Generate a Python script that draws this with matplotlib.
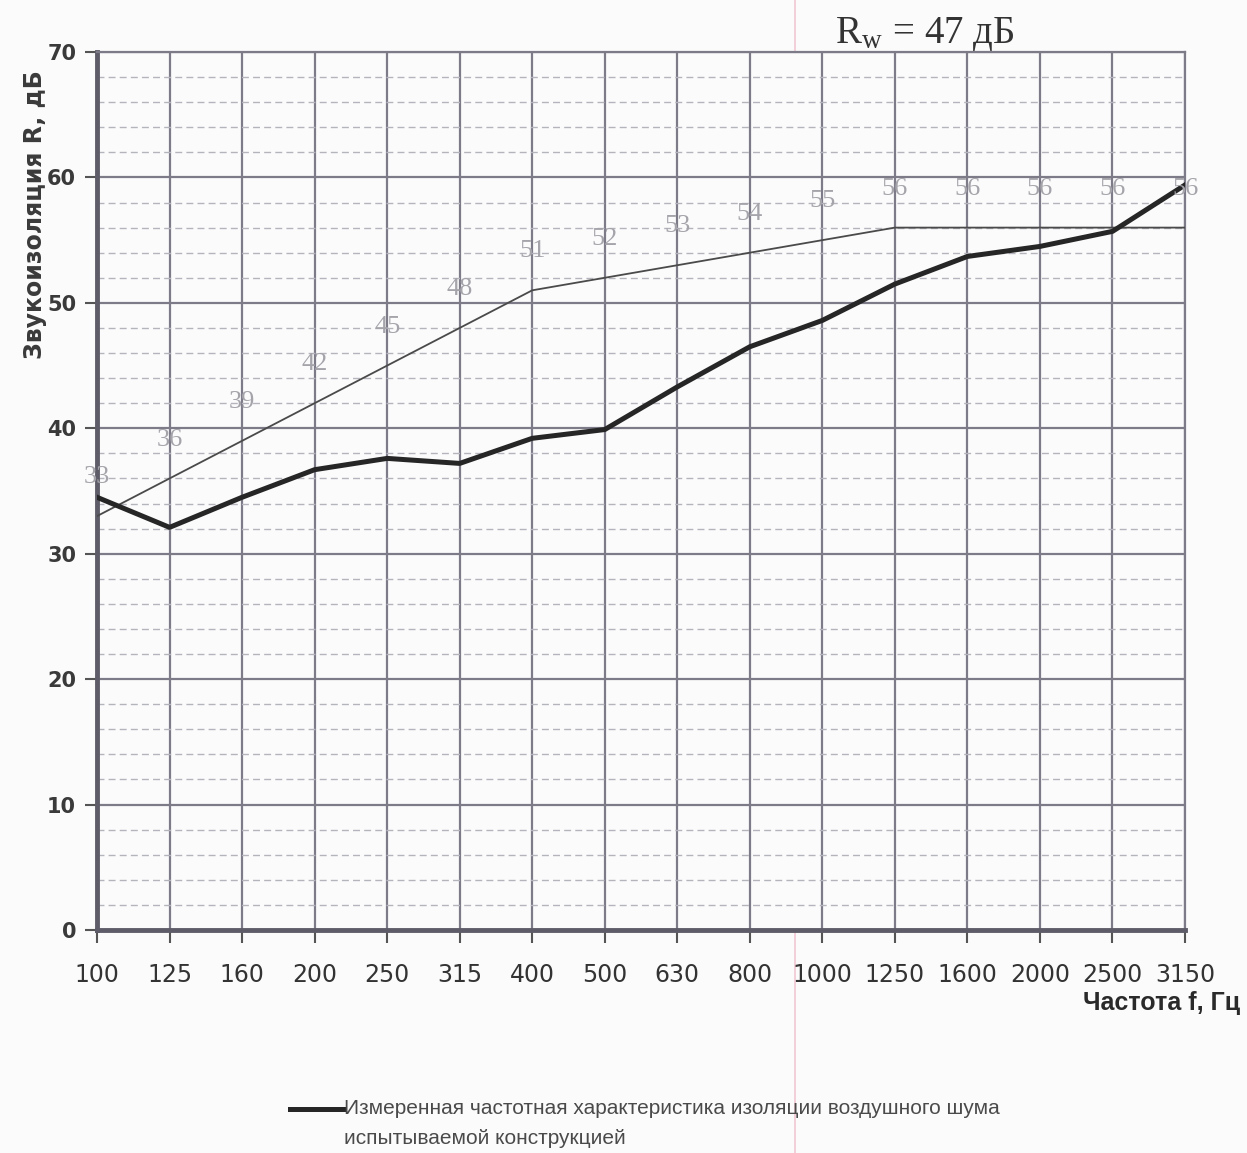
import numpy as np
import matplotlib.pyplot as plt
from matplotlib.ticker import MultipleLocator
from matplotlib.lines import Line2D

# chart data
freqs = ['100', '125', '160', '200', '250', '315', '400', '500', '630',
         '800', '1000', '1250', '1600', '2000', '2500', '3150']
measured = [34.5, 32.1, 34.5, 36.7, 37.6, 37.2, 39.2, 39.9, 43.3,
            46.5, 48.6, 51.5, 53.7, 54.5, 55.7, 59.4]
reference = [33, 36, 39, 42, 45, 48, 51, 52, 53, 54, 55, 56, 56, 56, 56, 56]
yticks = [0, 10, 20, 30, 40, 50, 60, 70]

plt.rcParams['mathtext.fontset'] = 'stix'

fig = plt.figure(figsize=(12.47, 11.53), dpi=100)
fig.patch.set_facecolor('#fbfbfc')
ax = fig.add_axes([0.0778, 0.1934, 0.8725, 0.7615])
ax.set_facecolor('#fbfbfc')

x = np.arange(len(freqs))
gridc = '#7d7b88'

# grid
ax.yaxis.set_minor_locator(MultipleLocator(2))
ax.grid(which='minor', axis='y', color='#b4b4bc', linestyle=(0, (5, 3)), linewidth=1.0)
ax.grid(which='major', axis='y', color=gridc, linestyle='-', linewidth=1.6)
ax.grid(which='major', axis='x', color=gridc, linestyle='-', linewidth=1.6)
ax.set_axisbelow(True)

# lines
ax.plot(x, reference, color='#4a4a4a', linewidth=1.3, zorder=3)
ax.plot(x, measured, color='#262626', linewidth=3.6, zorder=4,
        solid_joinstyle='round')

for xi, v in zip(x, reference):
    ax.annotate(str(v), (xi, v), xytext=(0, 28), textcoords='offset points',
                ha='center', va='center', fontsize=19, color='#a4a4aa',
                family='Liberation Serif', zorder=5)

ax.set_xlim(0, len(freqs) - 1)
ax.set_ylim(0, 70)
ax.set_xticks(x)
ax.set_xticklabels(freqs, fontsize=17, color='#333333')
ax.set_yticks(yticks)
ax.set_yticklabels([str(t) for t in yticks], fontsize=15, fontweight='bold', color='#3a3a3a')
ax.tick_params(axis='x', which='major', direction='out', length=9, width=1.5,
               color='#555', pad=15)
ax.tick_params(axis='y', which='major', direction='out', length=9, width=1.5,
               color='#555', pad=6)
ax.tick_params(axis='y', which='minor', length=0)

for side in ['top', 'right']:
    ax.spines[side].set_color(gridc)
    ax.spines[side].set_linewidth(1.6)
ax.spines['left'].set_color('#5e5c68')
ax.spines['left'].set_linewidth(3.5)
ax.spines['bottom'].set_color('#5e5c68')
ax.spines['bottom'].set_linewidth(3.5)

# axis titles
fig.text(35 / 1247, 1 - 215 / 1153, 'Звукоизоляция R, дБ', rotation=90,
         ha='center', va='center', fontsize=17, fontweight='bold', color='#3a3a3a')
fig.text(1240 / 1247, 1 - 1003 / 1153, 'Частота f, Гц', ha='right', va='center',
         fontsize=18, fontweight='bold', family='Liberation Sans', color='#2a2a2a')

# title
fig.text(835 / 1247, 1 - 34 / 1153, r'R$_\mathregular{w}$ = 47 дБ', ha='left', va='center',
         fontsize=28, family='Liberation Serif', color='#333333')

# legend
fig.add_artist(Line2D([290 / 1247, 343 / 1247], [1 - 1109 / 1153] * 2,
                      color='#262626', linewidth=3.6))
fig.text(344 / 1247, 1 - 1109 / 1153,
         'Измеренная частотная характеристика изоляции воздушного шума',
         ha='left', va='center', fontsize=15, family='Liberation Sans', color='#4a4a4a')
fig.text(344 / 1247, 1 - 1139 / 1153, 'испытываемой конструкцией',
         ha='left', va='center', fontsize=15, family='Liberation Sans', color='#4a4a4a')

# faint scan line
fig.add_artist(Line2D([795 / 1247] * 2, [0, 1], color='#f2c8d2', linewidth=1.2, zorder=0))

fig.savefig('out.png', dpi=100, facecolor=fig.get_facecolor())
